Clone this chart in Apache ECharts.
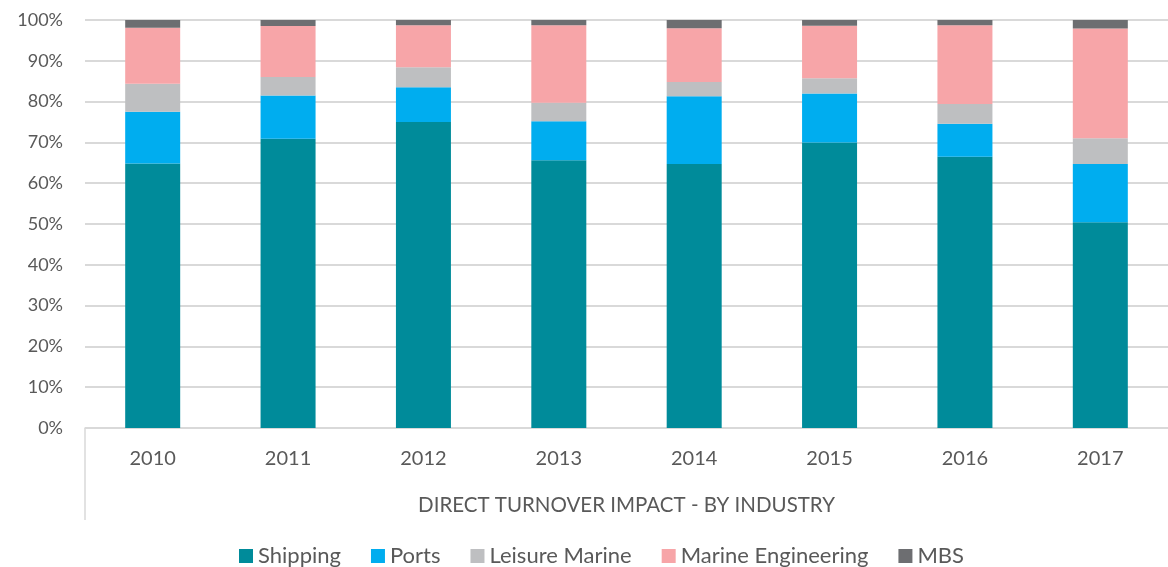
<!DOCTYPE html>
<html>
<head>
<meta charset="utf-8">
<script src="https://cdn.jsdelivr.net/npm/echarts@6/dist/echarts.min.js"></script>
<style>
  html, body { margin: 0; padding: 0; background: #fff; }
  #chart { width: 1168px; height: 567px; }
</style>
</head>
<body>
<div id="chart"></div>
<script>
const years = ['2010', '2011', '2012', '2013', '2014', '2015', '2016', '2017'];
const shipping = [64.8, 70.9, 75.0, 65.6, 64.7, 70.0, 66.5, 50.4];
const ports = [12.7, 10.6, 8.5, 9.6, 16.6, 12.0, 8.1, 14.3];
const leisureMarine = [6.9, 4.5, 4.9, 4.5, 3.5, 3.7, 4.8, 6.3];
const marineEngineering = [13.7, 12.5, 10.3, 19.0, 13.2, 12.9, 19.3, 26.9];
const mbs = [1.9, 1.5, 1.3, 1.3, 2.0, 1.4, 1.3, 2.1];
const yTicks = [0, 10, 20, 30, 40, 50, 60, 70, 80, 90, 100];

const font = 'Lato, "Open Sans", sans-serif';
const textColor = '#595959';

const chart = echarts.init(document.getElementById('chart'));

const bar = (name, data, color) => ({
  name,
  type: 'bar',
  stack: 'total',
  barWidth: 55,
  data,
  itemStyle: { color },
  emphasis: { disabled: true }
});

chart.setOption({
  animation: false,
  textStyle: { fontFamily: font },
  grid: {
    left: 85,
    top: 20,
    width: 1087,
    height: 408,
    containLabel: false
  },
  legend: {
    bottom: -5,
    left: 234,
    itemWidth: 14,
    itemHeight: 14,
    itemGap: 30,
    icon: 'rect',
    textStyle: { fontSize: 22, color: textColor, fontFamily: font },
    data: ['Shipping', 'Ports', 'Leisure Marine', 'Marine Engineering', 'MBS']
  },
  xAxis: {
    type: 'category',
    data: years,
    name: 'DIRECT TURNOVER IMPACT - BY INDUSTRY',
    nameLocation: 'middle',
    nameGap: 67,
    nameTextStyle: { fontSize: 20.5, color: textColor, fontFamily: font },
    axisLine: { lineStyle: { color: '#d9d9d9', width: 1.5 } },
    axisTick: { show: false },
    axisLabel: { fontSize: 20, color: textColor, margin: 21, fontFamily: font }
  },
  yAxis: {
    type: 'value',
    min: yTicks[0],
    max: yTicks[yTicks.length - 1],
    interval: 10,
    axisLine: { show: false },
    axisTick: { show: false },
    axisLabel: {
      formatter: '{value}%',
      fontSize: 18,
      color: textColor,
      margin: 22,
      fontFamily: font
    },
    splitLine: { lineStyle: { color: '#d9d9d9', width: 2 } }
  },
  graphic: [{
    type: 'line',
    shape: { x1: 85, y1: 428, x2: 85, y2: 520 },
    style: { stroke: '#d9d9d9', lineWidth: 1.5 },
    silent: true
  }],
  series: [
    bar('Shipping', shipping, '#008b9a'),
    bar('Ports', ports, '#00adef'),
    bar('Leisure Marine', leisureMarine, '#bebfc1'),
    bar('Marine Engineering', marineEngineering, '#f7a5a8'),
    bar('MBS', mbs, '#6d6e71')
  ]
});
</script>
</body>
</html>
